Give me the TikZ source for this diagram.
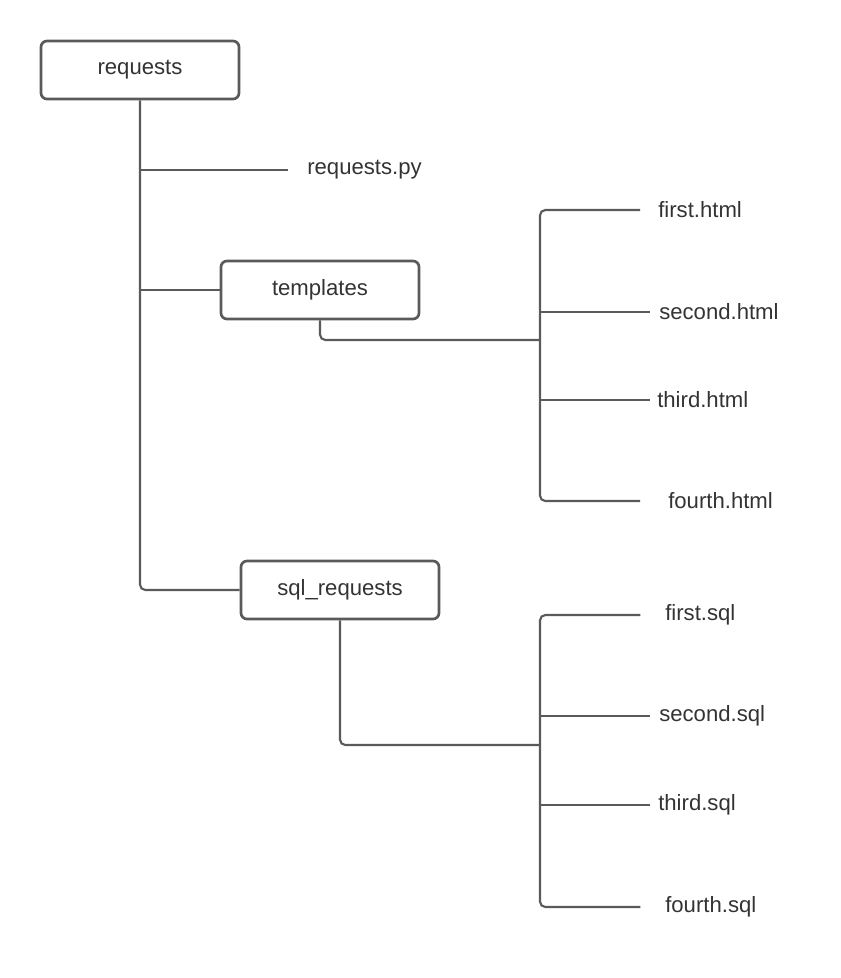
\documentclass[tikz,border=0pt]{standalone}
\usepackage{fontspec}
\setmainfont{Liberation Sans}
\usetikzlibrary{positioning}
\definecolor{linegray}{HTML}{5A5A5A}
\definecolor{textgray}{HTML}{333333}

\begin{document}
\begin{tikzpicture}[x=0.75pt, y=-0.75pt,
    folder/.style={draw=linegray, line width=2pt, rounded corners=4.5pt, minimum width=148.5pt, minimum height=43.5pt, text=textgray, font=\fontsize{16.6}{20}\selectfont},
    file/.style={anchor=west, inner sep=0pt, text=textgray, font=\fontsize{16.6}{20}\selectfont},
    link/.style={draw=linegray, line width=1.6pt, rounded corners=4pt}]
    \useasboundingbox (0,0) rectangle (840,978);
    % Draw the folders.
    \node[folder] (requests) at (140,70) {requests};
    \node[folder] (templates) at (320,290) {templates};
    \node[folder] (sqlreq) at (340,590) {sql\_requests};
    % Draw the files.
    \node[file] (reqpy) at (307,170) {requests.py};
    \node[file] (fhtml) at (658,210) {first.html};
    \node[file] (shtml) at (659,312) {second.html};
    \node[file] (thtml) at (657,400) {third.html};
    \node[file] (rhtml) at (668,501) {fourth.html};
    \node[file] (fsql) at (665,615) {first.sql};
    \node[file] (ssql) at (659,716) {second.sql};
    \node[file] (tsql) at (658,805) {third.sql};
    \node[file] (rsql) at (665,907) {fourth.sql};
    % Draw the main trunk and its branches.
    \draw[link] (requests.south) |- (sqlreq.west);
    \draw[link, shorten >=14pt] (requests.south |- reqpy.west) -- (reqpy.west);
    \draw[link] (requests.south |- templates.west) -- (templates.west);
    % Draw the templates bus.
    \coordinate (hbus) at (540,340);
    \draw[link] (templates.south) |- (hbus);
    \draw[link, shorten <=13.5pt, shorten >=21pt] (fhtml.west) -| (hbus) |- (rhtml.west);
    \draw[link, shorten >=6.5pt] (hbus |- shtml.west) -- (shtml.west);
    \draw[link, shorten >=5.5pt] (hbus |- thtml.west) -- (thtml.west);
    % Draw the sql bus.
    \coordinate (sbus) at (540,745);
    \draw[link] (sqlreq.south) |- (sbus);
    \draw[link, shorten <=18.5pt, shorten >=18.5pt] (fsql.west) -| (sbus) |- (rsql.west);
    \draw[link, shorten >=6.5pt] (sbus |- ssql.west) -- (ssql.west);
    \draw[link, shorten >=6pt] (sbus |- tsql.west) -- (tsql.west);
\end{tikzpicture}
\end{document}
